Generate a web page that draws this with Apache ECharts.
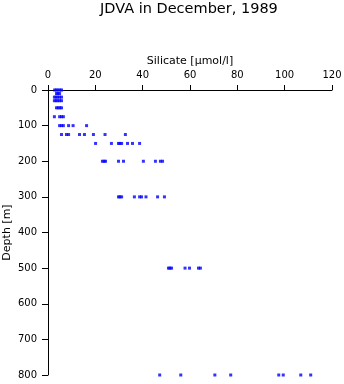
<!DOCTYPE html>
<html>
<head>
<meta charset="utf-8">
<script src="https://cdn.jsdelivr.net/npm/echarts@6/dist/echarts.min.js"></script>
<style>
  html, body { margin: 0; padding: 0; background: #fff; }
  #chart { width: 344px; height: 384px; }
</style>
</head>
<body>
<div id="chart"></div>
<script>
// Sampling depths [m] of the JDVA profiles
const depthLevels = [0, 10, 20, 30, 50, 75, 100, 125, 150, 200, 300, 500, 800];

// Silicate [µmol/l] measured at each depth level
const silicate0   = [2.8, 3.5, 4.2, 5.0, 5.7];
const silicate10  = [3.6, 4.2, 4.9];
const silicate20  = [2.7, 3.4, 4.1, 4.9, 5.7];
const silicate30  = [2.7, 3.4, 4.1, 4.9, 5.7];
const silicate50  = [3.6, 4.3, 5.0, 5.7];
const silicate75  = [2.7, 4.9, 5.7, 6.5];
const silicate100 = [4.9, 5.7, 6.5, 8.7, 10.6, 16.3];
const silicate125 = [5.7, 7.8, 8.7, 13.3, 15.4, 19.2, 24.1, 32.7];
const silicate150 = [20.1, 26.8, 29.8, 30.4, 31.1, 33.6, 35.7, 38.7];
const silicate200 = [23.0, 23.7, 24.3, 29.8, 31.9, 40.3, 45.4, 47.5, 48.4];
const silicate300 = [29.8, 30.4, 31.1, 36.5, 38.7, 39.5, 41.4, 46.3, 49.2];
const silicate500 = [50.9, 51.5, 52.2, 57.9, 59.8, 63.6, 64.4];
const silicate800 = [47.2, 56.1, 70.5, 77.2, 97.5, 99.4, 106.8, 111.0];

const silicateByLevel = [
  silicate0, silicate10, silicate20, silicate30, silicate50, silicate75,
  silicate100, silicate125, silicate150, silicate200, silicate300,
  silicate500, silicate800
];

// Axis ticks
const silicateTicks = [0, 20, 40, 60, 80, 100, 120];
const depthTicks = [0, 100, 200, 300, 400, 500, 600, 700, 800];

const points = [];
depthLevels.forEach((d, i) => {
  silicateByLevel[i].forEach(s => points.push([s, d]));
});

const font = 'DejaVu Sans, sans-serif';
const chart = echarts.init(document.getElementById('chart'), null, { renderer: 'canvas' });

chart.setOption({
  animation: false,
  backgroundColor: '#fff',
  title: {
    text: 'JDVA in December, 1989',
    left: 100,
    top: 2,
    padding: 0,
    textStyle: { fontFamily: font, fontSize: 14.5, fontWeight: 'normal', color: '#000' }
  },
  grid: { left: 48, right: 12, top: 90, bottom: 9, containLabel: false, outerBoundsMode: 'none' },
  xAxis: {
    type: 'value',
    position: 'top',
    min: silicateTicks[0],
    max: silicateTicks[silicateTicks.length - 1],
    interval: 20,
    name: 'Silicate [\u00b5mol/l]',
    nameLocation: 'middle',
    nameGap: 23,
    nameMoveOverlap: false,
    nameTextStyle: { fontFamily: font, fontSize: 11, color: '#000' },
    axisLine: { show: true, lineStyle: { color: '#000', width: 1 } },
    axisTick: { show: true, inside: false, length: 5, lineStyle: { color: '#000' } },
    axisLabel: { fontFamily: font, fontSize: 10, color: '#000', margin: 10 },
    splitLine: { show: false }
  },
  yAxis: {
    type: 'value',
    inverse: true,
    min: depthTicks[0],
    max: depthTicks[depthTicks.length - 1],
    interval: 100,
    name: 'Depth [m]',
    nameLocation: 'middle',
    nameRotate: 90,
    nameGap: 35,
    nameMoveOverlap: false,
    nameTextStyle: { fontFamily: font, fontSize: 11, color: '#000' },
    axisLine: { show: true, lineStyle: { color: '#000', width: 1 } },
    axisTick: { show: true, inside: false, length: 6, lineStyle: { color: '#000' } },
    axisLabel: { fontFamily: font, fontSize: 10, color: '#000', margin: 11 },
    splitLine: { show: false }
  },
  series: [{
    type: 'scatter',
    data: points,
    symbol: 'rect',
    symbolSize: 3,
    clip: false,
    itemStyle: { color: '#0000ff' }
  }]
});
</script>
</body>
</html>
